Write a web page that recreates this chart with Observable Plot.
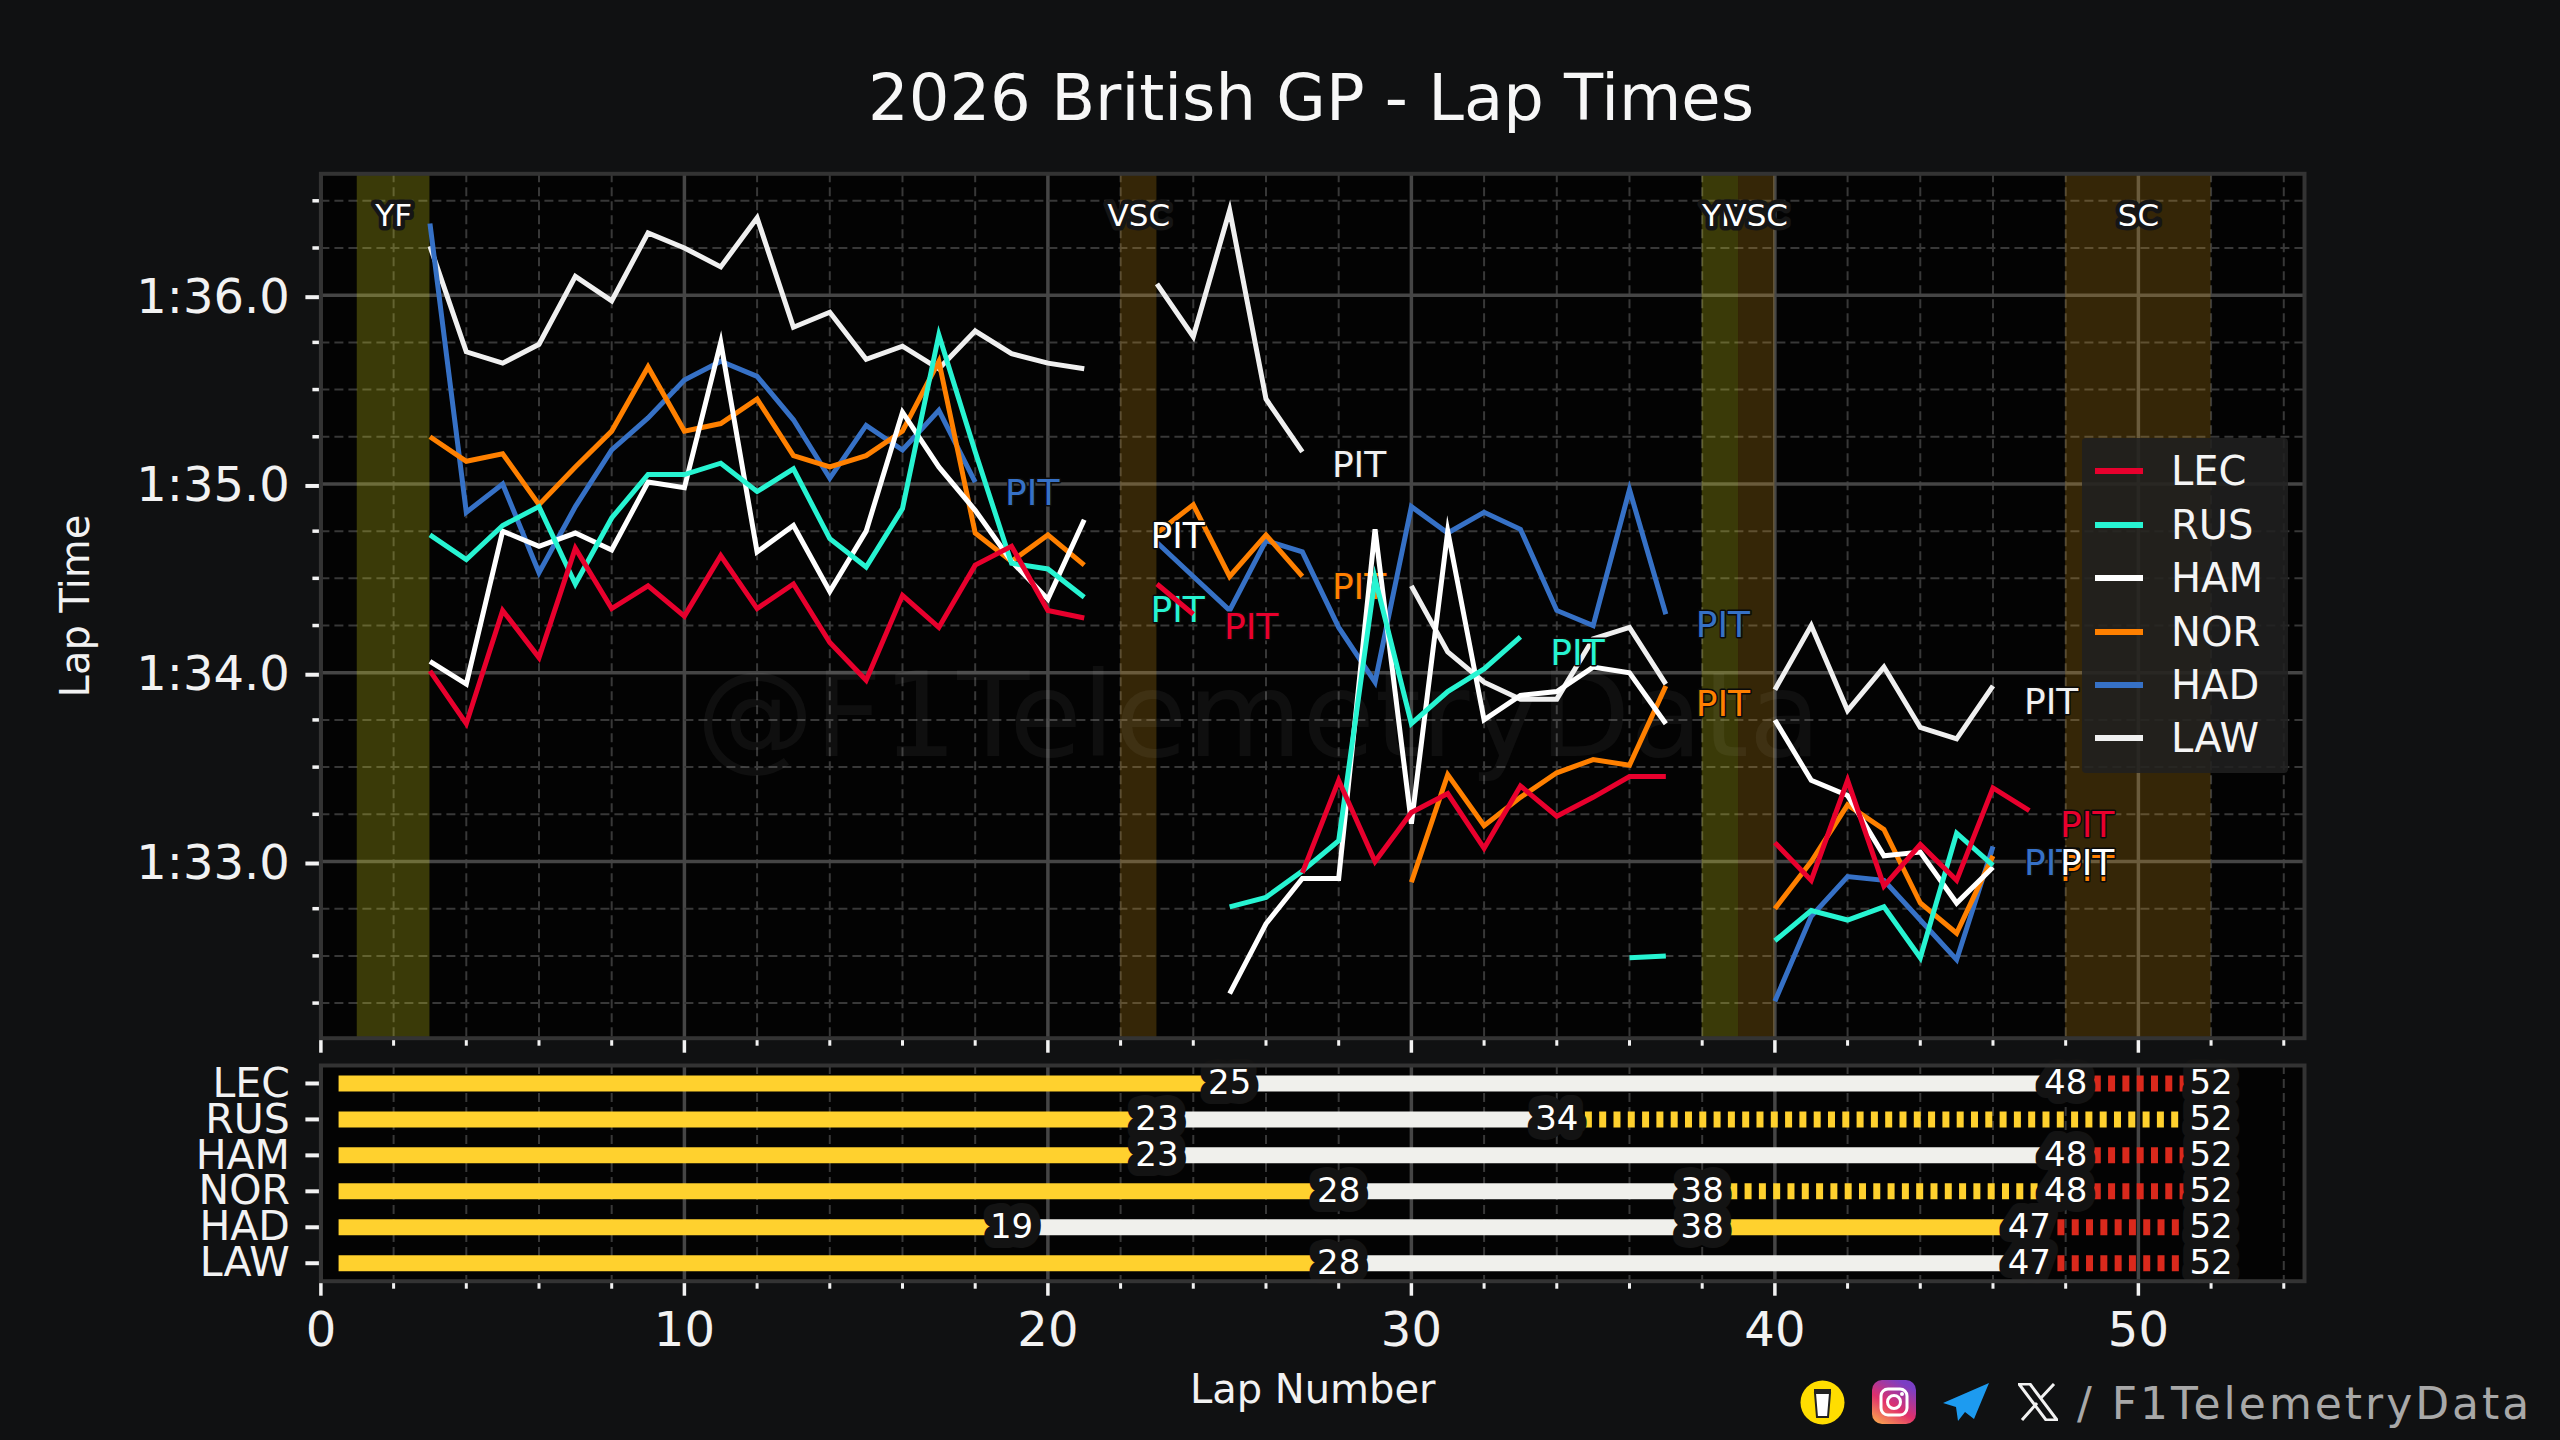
<!DOCTYPE html>
<html>
<head>
<meta charset="utf-8">
<script src="https://cdn.jsdelivr.net/npm/d3@7"></script>
<script src="https://cdn.jsdelivr.net/npm/@observablehq/plot@0.6"></script>
<style>
  html, body { margin: 0; padding: 0; width: 2560px; height: 1440px; overflow: hidden; background: #101112; color: #f5f5f5; font-family: "DejaVu Sans", sans-serif; }
  #title { height: 163px; box-sizing: border-box; padding-top: 62px; text-align: center; font-size: 64px; line-height: 72px; width: 2622px; margin-left: 0; color:#f7f7f7; }
  svg.chart, #wrap svg { display: block; }
  #legend { position: absolute; left: 2082px; top: 438px; width: 206px; height: 335px; background: rgba(32,32,32,.88); border-radius: 4px; }
  #legend .row { position: absolute; left: 13px; height: 40px; display: flex; align-items: center; font-size: 40px; color: #f5f5f5; }
  #legend .sw { display: inline-block; width: 48px; height: 6px; margin-right: 28px; }
  #footer { position: absolute; left: 0; top: 0; width: 2560px; height: 1440px; pointer-events: none; }
  #handle { position: absolute; left: 2077px; top: 1378px; font-size: 44px; line-height: 52px; color: #a8a8a8; white-space: nowrap; letter-spacing: 3px; }
  .icon { position: absolute; }
</style>
</head>
<body>
<div id="title">2026 British GP - Lap Times</div>
<div id="wrap"></div>
<div id="legend"></div>
<div id="footer">
  <svg class="icon" style="left:1800px;top:1380px" width="45" height="45" viewBox="0 0 45 45"><ellipse cx="22.5" cy="22.5" rx="22" ry="22" fill="#ffdd00"/><path d="M15 13h15l-2 24h-11z" fill="#fff" stroke="#222" stroke-width="2"/><rect x="14" y="9" width="17" height="5" fill="#222"/></svg>
  <svg class="icon" style="left:1872px;top:1380px" width="44" height="44" viewBox="0 0 44 44"><defs><linearGradient id="ig" x1="0" y1="1" x2="0.6" y2="0"><stop offset="0" stop-color="#fdb44b"/><stop offset=".5" stop-color="#e1306c"/><stop offset="1" stop-color="#7a3fc4"/></linearGradient></defs><rect width="44" height="44" rx="10" fill="url(#ig)"/><rect x="9" y="9" width="26" height="26" rx="7" fill="none" stroke="#fff" stroke-width="3"/><circle cx="22" cy="22" r="6.5" fill="none" stroke="#fff" stroke-width="3"/><circle cx="30" cy="14" r="2" fill="#fff"/></svg>
  <svg class="icon" style="left:1943px;top:1383px" width="46" height="38" viewBox="0 0 46 38"><path d="M46 0L0 20l13 4 2 14 7-9 9 7z" fill="#1d9bf0"/></svg>
  <svg class="icon" style="left:2018px;top:1383px" width="40" height="38" viewBox="0 0 40 38"><path d="M1 1h11l27 36h-11zM36 1L22 16M4 37l15-17" fill="none" stroke="#f2f2f2" stroke-width="3"/></svg>
  <div id="handle">/ F1TelemetryData</div>
</div>
<script>
// ---------- data ----------
const drivers = ["LEC", "RUS", "HAM", "NOR", "HAD", "LAW"];
const colors = ["#E8002D", "#27F4D2", "#FFFFFF", "#FF8000", "#3671C6", "#F0F0F0"];
const laps = [3,4,5,6,7,8,9,10,11,12,13,14,15,16,17,18,19,20,21,22,23,24,25,26,27,28,29,30,31,32,33,34,35,36,37,38,39,40,41,42,43,44,45,46,47];
const LEC = [94.01,93.73,94.33,94.08,94.66,94.34,94.46,94.30,94.62,94.34,94.47,94.16,93.96,94.41,94.24,94.57,94.67,94.33,94.29,null,94.47,94.31,null,null,92.94,93.43,93.00,93.26,93.36,93.07,93.40,93.24,93.34,93.45,93.45,null,null,93.10,92.90,93.43,92.87,93.09,92.90,93.39,93.27];
const RUS = [94.73,94.60,94.78,94.88,94.47,94.82,95.05,95.05,95.11,94.96,95.08,94.71,94.56,94.87,95.79,95.17,94.58,94.55,94.40,null,null,null,92.76,92.81,92.95,93.11,94.50,93.73,93.90,94.02,94.19,null,null,92.49,92.50,null,null,92.58,92.74,92.69,92.76,92.49,93.15,92.98,null];
const HAM = [94.06,93.94,94.75,94.67,94.74,94.65,95.01,94.98,95.75,94.64,94.78,94.43,94.75,95.38,95.09,94.86,94.59,94.39,94.81,null,null,null,92.30,92.67,92.91,92.91,94.76,93.20,94.75,93.75,93.88,93.90,94.03,94.00,93.73,null,null,93.75,93.43,93.35,93.03,93.05,92.78,92.97,null];
const NOR = [95.25,95.12,95.16,94.89,95.09,95.28,95.62,95.28,95.32,95.45,95.15,95.09,95.15,95.28,95.65,94.74,94.59,94.73,94.57,null,94.74,94.89,94.51,94.73,94.51,null,null,92.89,93.46,93.19,93.34,93.47,93.54,93.51,93.93,null,null,92.75,93.00,93.30,93.17,92.78,92.62,93.03,null];
const HAD = [96.38,94.85,95.00,94.53,94.88,95.18,95.35,95.55,95.65,95.57,95.34,95.03,95.31,95.18,95.39,95.01,null,null,null,null,94.69,94.51,94.33,94.70,94.64,94.24,93.95,94.88,94.74,94.85,94.76,94.33,94.25,94.97,94.31,null,null,92.26,92.71,92.92,92.90,92.69,92.48,93.08,null];
const LAW = [96.26,95.70,95.64,95.74,96.10,95.97,96.33,96.25,96.15,96.41,95.83,95.91,95.66,95.73,95.61,95.81,95.69,95.64,95.61,null,96.06,95.78,96.45,95.45,95.17,null,null,94.46,94.11,93.95,93.86,93.86,94.18,94.24,93.94,null,null,93.91,94.25,93.80,94.03,93.71,93.65,93.93,null];
const series = {LEC, RUS, HAM, NOR, HAD, LAW};

const pitDriver = ["HAD","LAW","HAM","RUS","NOR","LEC","RUS","HAD","NOR","LAW","LEC","HAD","NOR","HAM"];
const pitLap    = [19.57,28.56,23.57,23.57,28.56,25.59,34.57,38.57,38.57,47.6,48.59,47.6,48.59,48.59];
const pitTime   = [94.95,95.10,94.72,94.33,94.45,94.24,94.10,94.25,93.83,93.84,93.19,92.99,92.96,92.99];

const spanKind = ["YF","VSC","YF","VSC","SC"];
const spanFrom = [1,22,38,39,48];
const spanTo   = [3,23,39,40,52];
const spanFill = {YF:"#ffff1a", VSC:"#ffb31a", SC:"#ffb31a"};
const spanAlpha = {YF:0.22, VSC:0.2, SC:0.2};

const stintDriver = ["LEC","LEC","LEC","RUS","RUS","RUS","HAM","HAM","HAM","NOR","NOR","NOR","NOR","HAD","HAD","HAD","HAD","LAW","LAW","LAW"];
const stintFrom   = [0.5,25,48,0.5,23,34,0.5,23,48,0.5,28,38,48,0.5,19,38,47,0.5,28,47];
const stintEnd    = [25,48,52,23,34,52,23,48,52,28,38,48,52,19,38,47,52,28,47,52];
const stintTyre   = ["M","H","S","M","H","M*","M","H","S","M","H","M*","S","M","H","M","S","M","H","S"];
const tyreColor = {M:"#FFD12E", "M*":"#FFD12E", H:"#F0F0EC", S:"#DA291C"};

const yMajor = [93,94,95,96];
const yMinor = [92.25,92.5,92.75,93.25,93.5,93.75,94.25,94.5,94.75,95.25,95.5,95.75,96.25,96.5];
const xMajor = [0,10,20,30,40,50];
const xMinor = [2,4,6,8,12,14,16,18,22,24,26,28,32,34,36,38,42,44,46,48,52,54];
const xDomain = [0,54.57];
const yDomain = [92.064,96.643];

// ---------- shared ----------
const FONT = "DejaVu Sans";
const GRID = "#454545", GRID2 = "#383838", TICK = "#f2f2f2", FRAME = "#333333", PANEL = "#030303";
const fmt = s => `1:${(s-60).toFixed(1)}`;
const gridMarks = () => [
  Plot.frame({fill:PANEL, stroke:null}),
  Plot.ruleX(xMinor,{stroke:GRID2, strokeWidth:2, strokeDasharray:"9,5"}),
  Plot.ruleX(xMajor,{stroke:GRID, strokeWidth:3.5})
];
const xTicks = (labels) => [
  Plot.axisX(xMinor,{anchor:"bottom", tickSize:8, strokeWidth:3, color:TICK, tickFormat:()=>"", label:null}),
  Plot.axisX(xMajor,{anchor:"bottom", tickSize:15, strokeWidth:3.5, color:TICK, label:null, tickPadding:16, fontSize:48,
    tickFormat: labels ? (d=>String(d)) : (()=>"")})
];

// ---------- lap time panel ----------
const laneMarks = [];
for (let i = drivers.length-1; i >= 0; i--) {
  const code = drivers[i];
  laneMarks.push(Plot.line(laps,{x:d=>d, y:series[code], stroke:colors[i], strokeWidth:5, strokeLinejoin:"miter", strokeLinecap:"butt", strokeMiterlimit:8}));
  const idx = d3.range(pitDriver.length).filter(k => pitDriver[k] === code);
  laneMarks.push(Plot.text(idx,{x:k=>pitLap[k], y:k=>pitTime[k], text:()=>"PIT", fill:colors[i], stroke:"#0a0a0a", strokeWidth:3, fontSize:36, textAnchor:"middle"}));
}
const spanIdx = d3.range(spanKind.length);
const p1 = Plot.plot({
  width:2560, height:900, marginLeft:320.4, marginRight:256, marginTop:10.3, marginBottom:25.3,
  x:{domain:xDomain, axis:null},
  y:{domain:yDomain, axis:null},
  style:{background:"transparent", fontFamily:FONT, overflow:"visible"},
  marks:[
    ...gridMarks(),
    Plot.ruleY(yMinor,{stroke:GRID2, strokeWidth:2, strokeDasharray:"9,5"}),
    Plot.ruleY(yMajor,{stroke:GRID, strokeWidth:3.5}),
    ...spanIdx.map(k => Plot.rectX([k],{x1:()=>spanFrom[k], x2:()=>spanTo[k], fill:spanFill[spanKind[k]], fillOpacity:spanAlpha[spanKind[k]]})),
    Plot.text(["@F1TelemetryData"],{x:()=>25.8, y:()=>93.76, text:d=>d, fill:"#ffffff", fillOpacity:0.05, fontSize:118, textAnchor:"middle"}),
    ...laneMarks,
    Plot.text(spanIdx,{x:k=>(spanFrom[k]+spanTo[k])/2, y:()=>96.42, text:k=>spanKind[k], fill:"#fff", stroke:"#151515", strokeWidth:9, fontSize:31, textAnchor:"middle"}),
    Plot.axisY(yMajor,{anchor:"left", tickSize:15, strokeWidth:4, color:TICK, tickPadding:16, fontSize:48, tickFormat:fmt, label:null, dy:2}),
    Plot.axisY(yMinor,{anchor:"left", tickSize:8, strokeWidth:3.5, color:TICK, tickFormat:()=>"", label:null}),
    Plot.text(["Lap Time"],{frameAnchor:"left", text:d=>d, rotate:-90, dx:-245, fontSize:40, fill:"#f2f2f2", textAnchor:"middle"}),
    ...xTicks(false),
    Plot.frame({stroke:FRAME, strokeWidth:4})
  ]
});

// ---------- tyre stint panel ----------
const stintIdx = d3.range(stintDriver.length);
const stintMarks = stintIdx.map(k => Plot.ruleY([k],{
  y:()=>stintDriver[k], x1:()=>stintFrom[k], x2:()=>stintEnd[k],
  stroke:tyreColor[stintTyre[k]], strokeWidth:16,
  strokeDasharray: (stintTyre[k]==="S"||stintTyre[k]==="M*") ? "7,7.3" : null
}));
const p2 = Plot.plot({
  width:2560, height:377, marginLeft:320.4, marginRight:256, marginTop:2, marginBottom:159.3,
  x:{domain:xDomain, axis:null},
  y:{type:"band", domain:drivers, padding:0, round:false, axis:null},
  style:{background:"transparent", fontFamily:FONT, overflow:"visible"},
  marks:[
    ...gridMarks(),
    ...stintMarks,
    Plot.text(stintIdx,{x:k=>stintEnd[k], y:k=>stintDriver[k], text:k=>String(stintEnd[k]), fill:"#fff", stroke:"#131313", strokeWidth:20, fontSize:34, textAnchor:"middle"}),
    Plot.axisY(drivers,{anchor:"left", tickSize:15, strokeWidth:4, color:TICK, tickPadding:16, fontSize:41, label:null}),
    ...xTicks(true),
    Plot.text(["Lap Number"],{frameAnchor:"bottom", text:d=>d, dy:122, fontSize:40, fill:"#f2f2f2"}),
    Plot.frame({stroke:FRAME, strokeWidth:4})
  ]
});
document.getElementById("wrap").append(p1, p2);

// ---------- legend ----------
const legend = document.getElementById("legend");
const legendTops = [13, 67, 120, 173.5, 227, 280];
drivers.forEach((d,i) => {
  const row = document.createElement("div");
  row.className = "row";
  row.style.top = legendTops[i] + "px";
  row.innerHTML = `<span class="sw" style="background:${colors[i]}"></span><span>${d}</span>`;
  legend.append(row);
});
</script>
</body>
</html>
